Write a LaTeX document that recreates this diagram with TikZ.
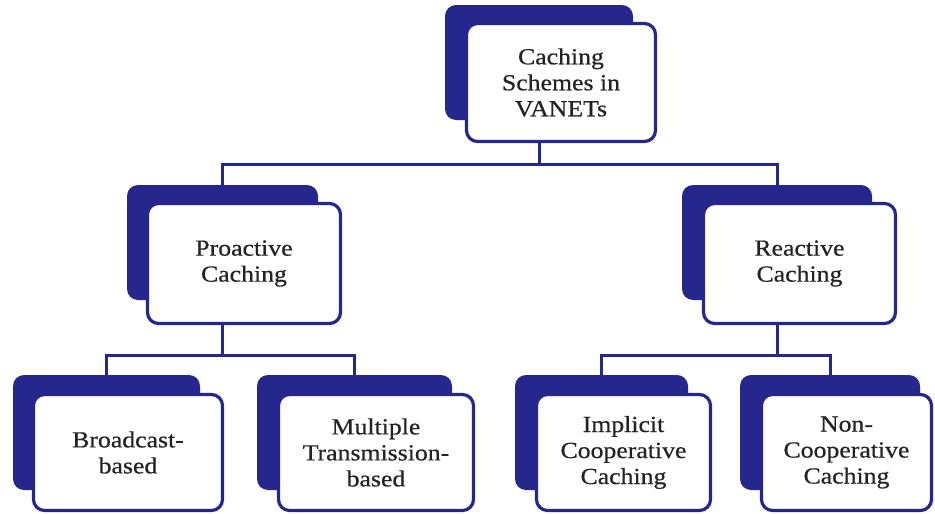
\documentclass[tikz,border=0pt]{standalone}
\usepackage{fontspec}
\setmainfont[FakeStretch=1.12,FakeBold=0.5]{Liberation Serif}
\definecolor{navy}{RGB}{38,39,140}
\definecolor{ink}{RGB}{34,34,34}
\begin{document}
\begin{tikzpicture}[x=1pt,y=-1pt,
  back/.style={fill=navy, rounded corners=11pt, inner sep=0pt, draw=none},
  card/.style={draw=navy, line width=3.2pt, fill=white, rounded corners=11pt,
    inner sep=0pt, align=center, text=ink, font=\fontsize{23}{26}\selectfont},
  link/.style={draw=navy, line width=3pt}]
\useasboundingbox (0,0) rectangle (935,514);

% dark backing plates
\node[back, minimum width=188pt, minimum height=115pt] (topS) at (539,62.5) {};
\node[back, minimum width=191pt, minimum height=115pt] (proS) at (222.5,242.5) {};
\node[back, minimum width=190pt, minimum height=115pt] (reaS) at (777,242.5) {};
\node[back, minimum width=187pt, minimum height=115pt] (broS) at (106.5,432.5) {};
\node[back, minimum width=195pt, minimum height=115pt] (mulS) at (354.5,432.5) {};
\node[back, minimum width=173pt, minimum height=115pt] (impS) at (601.5,432.5) {};
\node[back, minimum width=180pt, minimum height=115pt] (nonS) at (830,432.5) {};

% white cards with the labels
\node[card, minimum width=189pt, minimum height=118pt] (top) at (561,82.5) {Caching\\Schemes in\\VANETs};
\node[card, minimum width=193pt, minimum height=120pt] (pro) at (244,263.5) {Proactive\\Caching};
\node[card, minimum width=192pt, minimum height=120pt] (rea) at (799.5,263.5) {Reactive\\Caching};
\node[card, minimum width=189pt, minimum height=116pt] (bro) at (128,452.5) {Broadcast-\\based};
\node[card, minimum width=195pt, minimum height=116pt] (mul) at (376,452.5) {Multiple\\Transmission-\\based};
\node[card, minimum width=174pt, minimum height=116pt] (imp) at (623.5,452.5) {Implicit\\Cooperative\\Caching};
\node[card, minimum width=170pt, minimum height=116pt] (non) at (846.5,452.5) {Non-\\Cooperative\\Caching};

% bus levels
\coordinate (busA) at (0,164);
\coordinate (busB) at (0,355);

% tree connectors
\draw[link] (topS |- top.south) -- (topS |- busA);
\draw[link] (proS.north) -- (proS |- busA) -- (reaS |- busA) -- (reaS.north);
\draw[link] (proS |- pro.south) -- (proS |- busB);
\draw[link] (broS.north) -- (broS |- busB) -- (mulS |- busB) -- (mulS.north);
\draw[link] (reaS |- rea.south) -- (reaS |- busB);
\draw[link] (impS.north) -- (impS |- busB) -- (nonS |- busB) -- (nonS.north);
\end{tikzpicture}
\end{document}
